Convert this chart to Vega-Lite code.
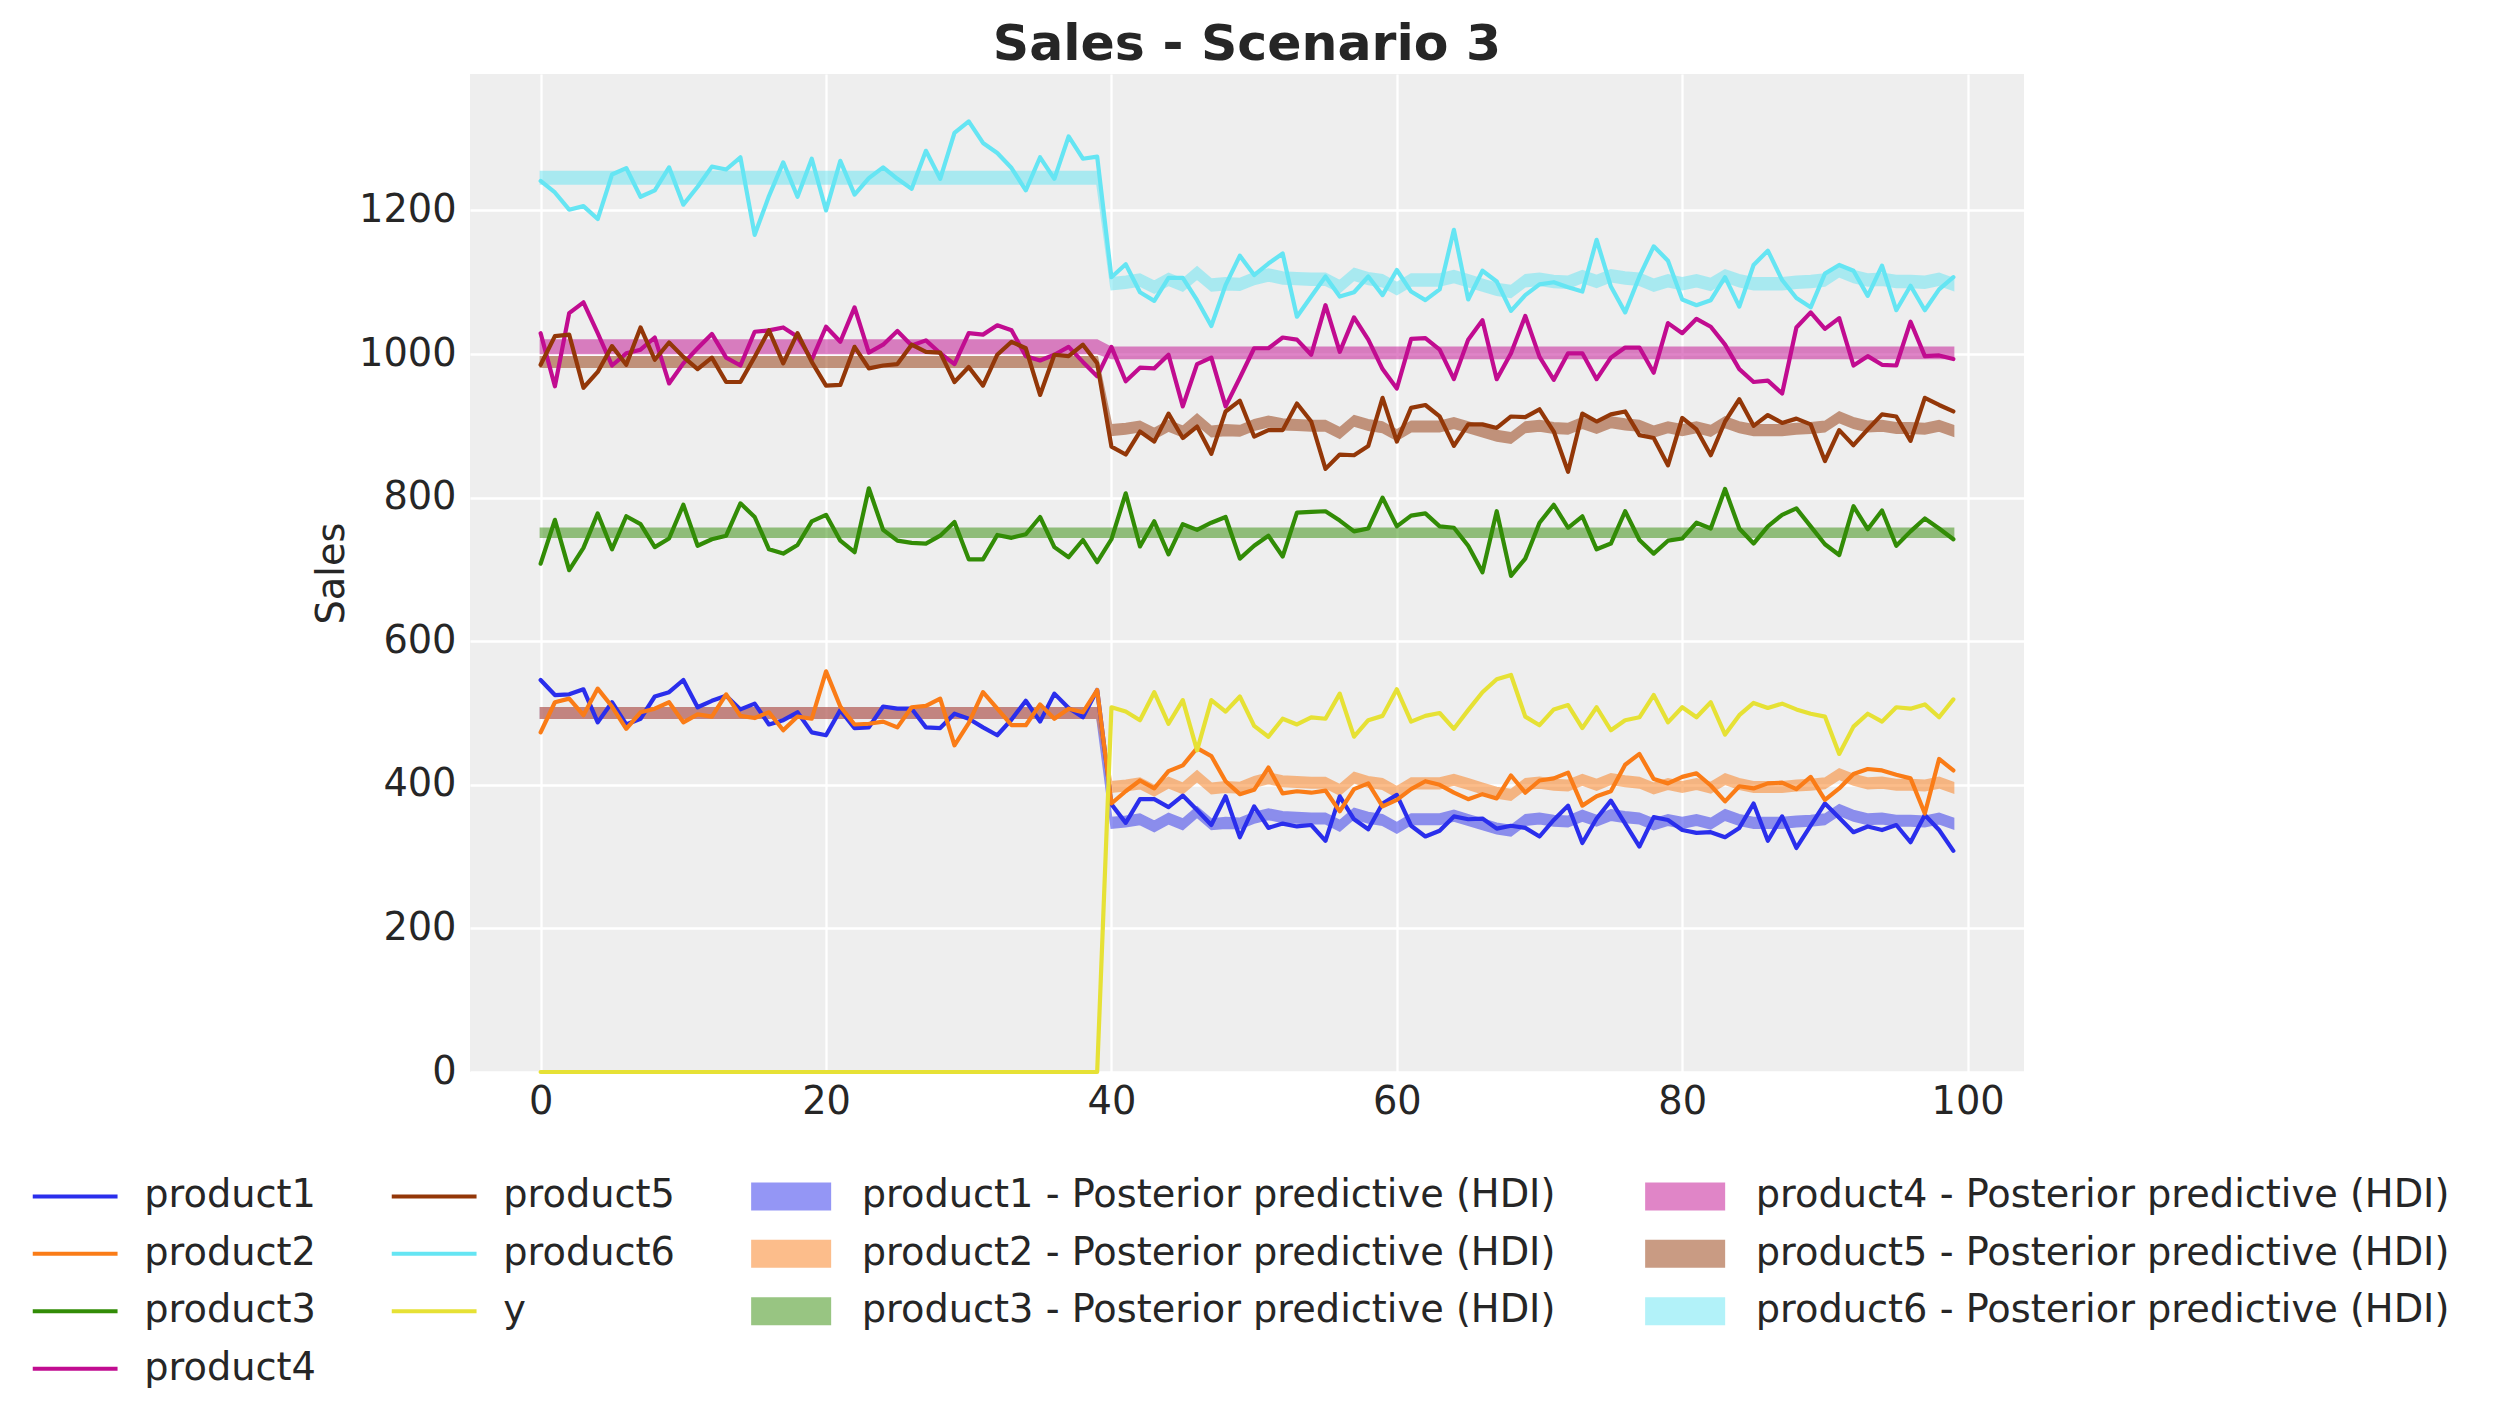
{
  "$schema": "https://vega.github.io/schema/vega-lite/v6.json",
  "width": 1554,
  "height": 998,
  "autosize": {"type": "none"},
  "padding": {"left": 470, "top": 74, "right": 471, "bottom": 352},
  "background": "white",
  "title": {
    "text": "Sales - Scenario 3",
    "fontSize": 50.5,
    "fontWeight": "bold",
    "font": "DejaVu Sans",
    "color": "#262626",
    "anchor": "middle",
    "frame": "group",
    "baseline": "alphabetic",
    "offset": 15,
    "dy": 51
  },
  "datasets": {
    "sales": [
      {"t":0,"product1":546,"product2":473,"product3":708,"product4":1029,"product5":985,"product6":1241,"y":0},
      {"t":1,"product1":525,"product2":515,"product3":769,"product4":955,"product5":1025,"product6":1225,"y":0},
      {"t":2,"product1":526,"product2":520,"product3":699,"product4":1057,"product5":1027,"product6":1201,"y":0},
      {"t":3,"product1":533,"product2":497,"product3":730,"product4":1072,"product5":953,"product6":1206,"y":0},
      {"t":4,"product1":487,"product2":534,"product3":778,"product4":1029,"product5":975,"product6":1188,"y":0},
      {"t":5,"product1":515,"product2":509,"product3":728,"product4":984,"product5":1011,"product6":1250,"y":0},
      {"t":6,"product1":484,"product2":478,"product3":774,"product4":1001,"product5":985,"product6":1259,"y":0},
      {"t":7,"product1":492,"product2":501,"product3":763,"product4":1006,"product5":1037,"product6":1219,"y":0},
      {"t":8,"product1":523,"product2":506,"product3":731,"product4":1023,"product5":992,"product6":1228,"y":0},
      {"t":9,"product1":529,"product2":515,"product3":743,"product4":959,"product5":1016,"product6":1260,"y":0},
      {"t":10,"product1":546,"product2":487,"product3":790,"product4":987,"product5":996,"product6":1208,"y":0},
      {"t":11,"product1":508,"product2":498,"product3":733,"product4":1008,"product5":979,"product6":1233,"y":0},
      {"t":12,"product1":517,"product2":495,"product3":742,"product4":1028,"product5":995,"product6":1261,"y":0},
      {"t":13,"product1":524,"product2":526,"product3":747,"product4":995,"product5":961,"product6":1257,"y":0},
      {"t":14,"product1":505,"product2":496,"product3":792,"product4":984,"product5":961,"product6":1274,"y":0},
      {"t":15,"product1":513,"product2":493,"product3":773,"product4":1031,"product5":996,"product6":1166,"y":0},
      {"t":16,"product1":484,"product2":501,"product3":728,"product4":1033,"product5":1033,"product6":1220,"y":0},
      {"t":17,"product1":490,"product2":476,"product3":722,"product4":1037,"product5":987,"product6":1267,"y":0},
      {"t":18,"product1":501,"product2":495,"product3":734,"product4":1024,"product5":1029,"product6":1219,"y":0},
      {"t":19,"product1":473,"product2":492,"product3":767,"product4":992,"product5":989,"product6":1272,"y":0},
      {"t":20,"product1":469,"product2":558,"product3":776,"product4":1038,"product5":956,"product6":1200,"y":0},
      {"t":21,"product1":504,"product2":509,"product3":740,"product4":1017,"product5":957,"product6":1269,"y":0},
      {"t":22,"product1":479,"product2":484,"product3":724,"product4":1065,"product5":1010,"product6":1222,"y":0},
      {"t":23,"product1":480,"product2":485,"product3":813,"product4":1002,"product5":980,"product6":1245,"y":0},
      {"t":24,"product1":509,"product2":488,"product3":755,"product4":1013,"product5":984,"product6":1260,"y":0},
      {"t":25,"product1":506,"product2":480,"product3":740,"product4":1032,"product5":986,"product6":1244,"y":0},
      {"t":26,"product1":506,"product2":508,"product3":737,"product4":1012,"product5":1013,"product6":1230,"y":0},
      {"t":27,"product1":480,"product2":510,"product3":736,"product4":1019,"product5":1003,"product6":1283,"y":0},
      {"t":28,"product1":479,"product2":520,"product3":747,"product4":1001,"product5":1002,"product6":1244,"y":0},
      {"t":29,"product1":499,"product2":455,"product3":766,"product4":986,"product5":961,"product6":1308,"y":0},
      {"t":30,"product1":492,"product2":486,"product3":714,"product4":1029,"product5":982,"product6":1324,"y":0},
      {"t":31,"product1":480,"product2":529,"product3":714,"product4":1027,"product5":956,"product6":1294,"y":0},
      {"t":32,"product1":469,"product2":506,"product3":748,"product4":1040,"product5":999,"product6":1280,"y":0},
      {"t":33,"product1":491,"product2":483,"product3":744,"product4":1033,"product5":1017,"product6":1259,"y":0},
      {"t":34,"product1":517,"product2":483,"product3":749,"product4":997,"product5":1008,"product6":1228,"y":0},
      {"t":35,"product1":488,"product2":512,"product3":773,"product4":991,"product5":943,"product6":1274,"y":0},
      {"t":36,"product1":527,"product2":492,"product3":731,"product4":999,"product5":999,"product6":1244,"y":0},
      {"t":37,"product1":507,"product2":506,"product3":717,"product4":1010,"product5":997,"product6":1303,"y":0},
      {"t":38,"product1":494,"product2":501,"product3":741,"product4":989,"product5":1013,"product6":1272,"y":0},
      {"t":39,"product1":532,"product2":532,"product3":710,"product4":969,"product5":987,"product6":1275,"y":0},
      {"t":40,"product1":373,"product2":374,"product3":742,"product4":1010,"product5":871,"product6":1107,"y":508},
      {"t":41,"product1":347,"product2":391,"product3":806,"product4":962,"product5":860,"product6":1125,"y":502},
      {"t":42,"product1":380,"product2":406,"product3":732,"product4":981,"product5":892,"product6":1086,"y":490},
      {"t":43,"product1":380,"product2":395,"product3":767,"product4":980,"product5":878,"product6":1074,"y":529},
      {"t":44,"product1":369,"product2":419,"product3":721,"product4":999,"product5":917,"product6":1106,"y":485},
      {"t":45,"product1":385,"product2":427,"product3":763,"product4":927,"product5":883,"product6":1106,"y":518},
      {"t":46,"product1":365,"product2":451,"product3":755,"product4":986,"product5":899,"product6":1075,"y":448},
      {"t":47,"product1":344,"product2":440,"product3":765,"product4":995,"product5":861,"product6":1039,"y":518},
      {"t":48,"product1":384,"product2":405,"product3":773,"product4":927,"product5":920,"product6":1096,"y":502},
      {"t":49,"product1":327,"product2":387,"product3":715,"product4":967,"product5":935,"product6":1137,"y":523},
      {"t":50,"product1":370,"product2":393,"product3":733,"product4":1008,"product5":885,"product6":1110,"y":482},
      {"t":51,"product1":340,"product2":424,"product3":747,"product4":1008,"product5":894,"product6":1126,"y":467},
      {"t":52,"product1":346,"product2":388,"product3":718,"product4":1023,"product5":894,"product6":1140,"y":492},
      {"t":53,"product1":342,"product2":391,"product3":779,"product4":1020,"product5":931,"product6":1052,"y":484},
      {"t":54,"product1":344,"product2":389,"product3":780,"product4":999,"product5":906,"product6":1080,"y":494},
      {"t":55,"product1":322,"product2":392,"product3":781,"product4":1068,"product5":840,"product6":1108,"y":492},
      {"t":56,"product1":384,"product2":363,"product3":768,"product4":1003,"product5":860,"product6":1080,"y":527},
      {"t":57,"product1":352,"product2":394,"product3":753,"product4":1051,"product5":859,"product6":1086,"y":467},
      {"t":58,"product1":338,"product2":402,"product3":757,"product4":1020,"product5":872,"product6":1108,"y":490},
      {"t":59,"product1":374,"product2":370,"product3":800,"product4":979,"product5":939,"product6":1082,"y":496},
      {"t":60,"product1":386,"product2":379,"product3":760,"product4":952,"product5":878,"product6":1117,"y":533},
      {"t":61,"product1":343,"product2":394,"product3":775,"product4":1021,"product5":925,"product6":1087,"y":488},
      {"t":62,"product1":328,"product2":405,"product3":778,"product4":1022,"product5":929,"product6":1075,"y":496},
      {"t":63,"product1":336,"product2":400,"product3":760,"product4":1006,"product5":913,"product6":1090,"y":500},
      {"t":64,"product1":356,"product2":389,"product3":758,"product4":965,"product5":872,"product6":1173,"y":478},
      {"t":65,"product1":352,"product2":380,"product3":733,"product4":1020,"product5":902,"product6":1076,"y":504},
      {"t":66,"product1":353,"product2":387,"product3":696,"product4":1047,"product5":902,"product6":1116,"y":529},
      {"t":67,"product1":339,"product2":381,"product3":781,"product4":965,"product5":897,"product6":1101,"y":547},
      {"t":68,"product1":343,"product2":413,"product3":691,"product4":1001,"product5":913,"product6":1060,"y":553},
      {"t":69,"product1":340,"product2":389,"product3":715,"product4":1053,"product5":912,"product6":1082,"y":495},
      {"t":70,"product1":328,"product2":406,"product3":765,"product4":996,"product5":923,"product6":1097,"y":483},
      {"t":71,"product1":351,"product2":409,"product3":790,"product4":964,"product5":892,"product6":1100,"y":505},
      {"t":72,"product1":371,"product2":417,"product3":758,"product4":1001,"product5":836,"product6":1093,"y":511},
      {"t":73,"product1":319,"product2":371,"product3":774,"product4":1001,"product5":917,"product6":1087,"y":479},
      {"t":74,"product1":353,"product2":384,"product3":728,"product4":965,"product5":906,"product6":1159,"y":508},
      {"t":75,"product1":378,"product2":391,"product3":736,"product4":995,"product5":916,"product6":1094,"y":476},
      {"t":76,"product1":346,"product2":428,"product3":781,"product4":1009,"product5":920,"product6":1058,"y":490},
      {"t":77,"product1":314,"product2":443,"product3":741,"product4":1009,"product5":887,"product6":1108,"y":494},
      {"t":78,"product1":355,"product2":408,"product3":722,"product4":974,"product5":883,"product6":1150,"y":525},
      {"t":79,"product1":351,"product2":402,"product3":740,"product4":1043,"product5":845,"product6":1130,"y":487},
      {"t":80,"product1":337,"product2":411,"product3":743,"product4":1029,"product5":911,"product6":1076,"y":508},
      {"t":81,"product1":333,"product2":416,"product3":765,"product4":1049,"product5":895,"product6":1068,"y":494},
      {"t":82,"product1":334,"product2":399,"product3":757,"product4":1038,"product5":859,"product6":1075,"y":515},
      {"t":83,"product1":327,"product2":377,"product3":812,"product4":1013,"product5":906,"product6":1107,"y":470},
      {"t":84,"product1":340,"product2":398,"product3":757,"product4":979,"product5":937,"product6":1066,"y":497},
      {"t":85,"product1":374,"product2":395,"product3":736,"product4":961,"product5":900,"product6":1124,"y":514},
      {"t":86,"product1":322,"product2":402,"product3":760,"product4":963,"product5":915,"product6":1144,"y":507},
      {"t":87,"product1":356,"product2":403,"product3":776,"product4":945,"product5":904,"product6":1103,"y":513},
      {"t":88,"product1":312,"product2":394,"product3":785,"product4":1037,"product5":910,"product6":1078,"y":505},
      {"t":89,"product1":343,"product2":411,"product3":760,"product4":1058,"product5":902,"product6":1065,"y":499},
      {"t":90,"product1":374,"product2":379,"product3":735,"product4":1035,"product5":851,"product6":1112,"y":495},
      {"t":91,"product1":354,"product2":395,"product3":720,"product4":1050,"product5":894,"product6":1124,"y":443},
      {"t":92,"product1":334,"product2":415,"product3":788,"product4":984,"product5":873,"product6":1116,"y":481},
      {"t":93,"product1":342,"product2":422,"product3":756,"product4":997,"product5":895,"product6":1081,"y":499},
      {"t":94,"product1":337,"product2":420,"product3":782,"product4":985,"product5":916,"product6":1123,"y":488},
      {"t":95,"product1":344,"product2":414,"product3":733,"product4":984,"product5":913,"product6":1061,"y":508},
      {"t":96,"product1":320,"product2":409,"product3":753,"product4":1045,"product5":879,"product6":1095,"y":506},
      {"t":97,"product1":358,"product2":360,"product3":771,"product4":997,"product5":939,"product6":1061,"y":512},
      {"t":98,"product1":337,"product2":436,"product3":757,"product4":998,"product5":929,"product6":1090,"y":494},
      {"t":99,"product1":308,"product2":420,"product3":742,"product4":993,"product5":920,"product6":1107,"y":519}
    ],
    "hdi": [
      {"t":0,"l1":493,"h1":507,"l2":493,"h2":507,"l3":745,"h3":757,"l4":1001,"h4":1019,"l5":982,"h5":996,"l6":1237,"h6":1254},
      {"t":1,"l1":493,"h1":507,"l2":493,"h2":507,"l3":745,"h3":757,"l4":1001,"h4":1019,"l5":982,"h5":996,"l6":1237,"h6":1254},
      {"t":2,"l1":493,"h1":507,"l2":493,"h2":507,"l3":745,"h3":757,"l4":1001,"h4":1019,"l5":982,"h5":996,"l6":1237,"h6":1254},
      {"t":3,"l1":493,"h1":507,"l2":493,"h2":507,"l3":745,"h3":757,"l4":1001,"h4":1019,"l5":982,"h5":996,"l6":1237,"h6":1254},
      {"t":4,"l1":493,"h1":507,"l2":493,"h2":507,"l3":745,"h3":757,"l4":1001,"h4":1019,"l5":982,"h5":996,"l6":1237,"h6":1254},
      {"t":5,"l1":493,"h1":507,"l2":493,"h2":507,"l3":745,"h3":757,"l4":1001,"h4":1019,"l5":982,"h5":996,"l6":1237,"h6":1254},
      {"t":6,"l1":493,"h1":507,"l2":493,"h2":507,"l3":745,"h3":757,"l4":1001,"h4":1019,"l5":982,"h5":996,"l6":1237,"h6":1254},
      {"t":7,"l1":493,"h1":507,"l2":493,"h2":507,"l3":745,"h3":757,"l4":1001,"h4":1019,"l5":982,"h5":996,"l6":1237,"h6":1254},
      {"t":8,"l1":493,"h1":507,"l2":493,"h2":507,"l3":745,"h3":757,"l4":1001,"h4":1019,"l5":982,"h5":996,"l6":1237,"h6":1254},
      {"t":9,"l1":493,"h1":507,"l2":493,"h2":507,"l3":745,"h3":757,"l4":1001,"h4":1019,"l5":982,"h5":996,"l6":1237,"h6":1254},
      {"t":10,"l1":493,"h1":507,"l2":493,"h2":507,"l3":745,"h3":757,"l4":1001,"h4":1019,"l5":982,"h5":996,"l6":1237,"h6":1254},
      {"t":11,"l1":493,"h1":507,"l2":493,"h2":507,"l3":745,"h3":757,"l4":1001,"h4":1019,"l5":982,"h5":996,"l6":1237,"h6":1254},
      {"t":12,"l1":493,"h1":507,"l2":493,"h2":507,"l3":745,"h3":757,"l4":1001,"h4":1019,"l5":982,"h5":996,"l6":1237,"h6":1254},
      {"t":13,"l1":493,"h1":507,"l2":493,"h2":507,"l3":745,"h3":757,"l4":1001,"h4":1019,"l5":982,"h5":996,"l6":1237,"h6":1254},
      {"t":14,"l1":493,"h1":507,"l2":493,"h2":507,"l3":745,"h3":757,"l4":1001,"h4":1019,"l5":982,"h5":996,"l6":1237,"h6":1254},
      {"t":15,"l1":493,"h1":507,"l2":493,"h2":507,"l3":745,"h3":757,"l4":1001,"h4":1019,"l5":982,"h5":996,"l6":1237,"h6":1254},
      {"t":16,"l1":493,"h1":507,"l2":493,"h2":507,"l3":745,"h3":757,"l4":1001,"h4":1019,"l5":982,"h5":996,"l6":1237,"h6":1254},
      {"t":17,"l1":493,"h1":507,"l2":493,"h2":507,"l3":745,"h3":757,"l4":1001,"h4":1019,"l5":982,"h5":996,"l6":1237,"h6":1254},
      {"t":18,"l1":493,"h1":507,"l2":493,"h2":507,"l3":745,"h3":757,"l4":1001,"h4":1019,"l5":982,"h5":996,"l6":1237,"h6":1254},
      {"t":19,"l1":493,"h1":507,"l2":493,"h2":507,"l3":745,"h3":757,"l4":1001,"h4":1019,"l5":982,"h5":996,"l6":1237,"h6":1254},
      {"t":20,"l1":493,"h1":507,"l2":493,"h2":507,"l3":745,"h3":757,"l4":1001,"h4":1019,"l5":982,"h5":996,"l6":1237,"h6":1254},
      {"t":21,"l1":493,"h1":507,"l2":493,"h2":507,"l3":745,"h3":757,"l4":1001,"h4":1019,"l5":982,"h5":996,"l6":1237,"h6":1254},
      {"t":22,"l1":493,"h1":507,"l2":493,"h2":507,"l3":745,"h3":757,"l4":1001,"h4":1019,"l5":982,"h5":996,"l6":1237,"h6":1254},
      {"t":23,"l1":493,"h1":507,"l2":493,"h2":507,"l3":745,"h3":757,"l4":1001,"h4":1019,"l5":982,"h5":996,"l6":1237,"h6":1254},
      {"t":24,"l1":493,"h1":507,"l2":493,"h2":507,"l3":745,"h3":757,"l4":1001,"h4":1019,"l5":982,"h5":996,"l6":1237,"h6":1254},
      {"t":25,"l1":493,"h1":507,"l2":493,"h2":507,"l3":745,"h3":757,"l4":1001,"h4":1019,"l5":982,"h5":996,"l6":1237,"h6":1254},
      {"t":26,"l1":493,"h1":507,"l2":493,"h2":507,"l3":745,"h3":757,"l4":1001,"h4":1019,"l5":982,"h5":996,"l6":1237,"h6":1254},
      {"t":27,"l1":493,"h1":507,"l2":493,"h2":507,"l3":745,"h3":757,"l4":1001,"h4":1019,"l5":982,"h5":996,"l6":1237,"h6":1254},
      {"t":28,"l1":493,"h1":507,"l2":493,"h2":507,"l3":745,"h3":757,"l4":1001,"h4":1019,"l5":982,"h5":996,"l6":1237,"h6":1254},
      {"t":29,"l1":493,"h1":507,"l2":493,"h2":507,"l3":745,"h3":757,"l4":1001,"h4":1019,"l5":982,"h5":996,"l6":1237,"h6":1254},
      {"t":30,"l1":493,"h1":507,"l2":493,"h2":507,"l3":745,"h3":757,"l4":1001,"h4":1019,"l5":982,"h5":996,"l6":1237,"h6":1254},
      {"t":31,"l1":493,"h1":507,"l2":493,"h2":507,"l3":745,"h3":757,"l4":1001,"h4":1019,"l5":982,"h5":996,"l6":1237,"h6":1254},
      {"t":32,"l1":493,"h1":507,"l2":493,"h2":507,"l3":745,"h3":757,"l4":1001,"h4":1019,"l5":982,"h5":996,"l6":1237,"h6":1254},
      {"t":33,"l1":493,"h1":507,"l2":493,"h2":507,"l3":745,"h3":757,"l4":1001,"h4":1019,"l5":982,"h5":996,"l6":1237,"h6":1254},
      {"t":34,"l1":493,"h1":507,"l2":493,"h2":507,"l3":745,"h3":757,"l4":1001,"h4":1019,"l5":982,"h5":996,"l6":1237,"h6":1254},
      {"t":35,"l1":493,"h1":507,"l2":493,"h2":507,"l3":745,"h3":757,"l4":1001,"h4":1019,"l5":982,"h5":996,"l6":1237,"h6":1254},
      {"t":36,"l1":493,"h1":507,"l2":493,"h2":507,"l3":745,"h3":757,"l4":1001,"h4":1019,"l5":982,"h5":996,"l6":1237,"h6":1254},
      {"t":37,"l1":493,"h1":507,"l2":493,"h2":507,"l3":745,"h3":757,"l4":1001,"h4":1019,"l5":982,"h5":996,"l6":1237,"h6":1254},
      {"t":38,"l1":493,"h1":507,"l2":493,"h2":507,"l3":745,"h3":757,"l4":1001,"h4":1019,"l5":982,"h5":996,"l6":1237,"h6":1254},
      {"t":39,"l1":493,"h1":507,"l2":493,"h2":507,"l3":745,"h3":757,"l4":1001,"h4":1019,"l5":982,"h5":996,"l6":1237,"h6":1254},
      {"t":40,"l1":340,"h1":354,"l2":390,"h2":404,"l3":745,"h3":757,"l4":994,"h4":1009,"l5":887,"h5":901,"l6":1090,"h6":1106},
      {"t":41,"l1":342,"h1":356,"l2":392,"h2":406,"l3":745,"h3":757,"l4":994,"h4":1009,"l5":889,"h5":903,"l6":1092,"h6":1108},
      {"t":42,"l1":345,"h1":359,"l2":395,"h2":409,"l3":745,"h3":757,"l4":994,"h4":1009,"l5":892,"h5":906,"l6":1095,"h6":1111},
      {"t":43,"l1":335,"h1":349,"l2":385,"h2":399,"l3":745,"h3":757,"l4":994,"h4":1009,"l5":882,"h5":896,"l6":1085,"h6":1101},
      {"t":44,"l1":346,"h1":360,"l2":396,"h2":410,"l3":745,"h3":757,"l4":994,"h4":1009,"l5":893,"h5":907,"l6":1096,"h6":1112},
      {"t":45,"l1":338,"h1":352,"l2":388,"h2":402,"l3":745,"h3":757,"l4":994,"h4":1009,"l5":885,"h5":899,"l6":1088,"h6":1104},
      {"t":46,"l1":355,"h1":369,"l2":405,"h2":419,"l3":745,"h3":757,"l4":994,"h4":1009,"l5":902,"h5":916,"l6":1105,"h6":1121},
      {"t":47,"l1":338,"h1":352,"l2":388,"h2":402,"l3":745,"h3":757,"l4":994,"h4":1009,"l5":885,"h5":899,"l6":1088,"h6":1104},
      {"t":48,"l1":340,"h1":354,"l2":390,"h2":404,"l3":745,"h3":757,"l4":994,"h4":1009,"l5":887,"h5":901,"l6":1090,"h6":1106},
      {"t":49,"l1":339,"h1":353,"l2":389,"h2":403,"l3":745,"h3":757,"l4":994,"h4":1009,"l5":886,"h5":900,"l6":1089,"h6":1105},
      {"t":50,"l1":347,"h1":361,"l2":397,"h2":411,"l3":745,"h3":757,"l4":994,"h4":1009,"l5":894,"h5":908,"l6":1097,"h6":1113},
      {"t":51,"l1":352,"h1":366,"l2":402,"h2":416,"l3":745,"h3":757,"l4":994,"h4":1009,"l5":899,"h5":913,"l6":1102,"h6":1118},
      {"t":52,"l1":348,"h1":362,"l2":398,"h2":412,"l3":745,"h3":757,"l4":994,"h4":1009,"l5":895,"h5":909,"l6":1098,"h6":1114},
      {"t":53,"l1":347,"h1":361,"l2":397,"h2":411,"l3":745,"h3":757,"l4":994,"h4":1009,"l5":894,"h5":908,"l6":1097,"h6":1113},
      {"t":54,"l1":346,"h1":360,"l2":396,"h2":410,"l3":745,"h3":757,"l4":994,"h4":1009,"l5":893,"h5":907,"l6":1096,"h6":1112},
      {"t":55,"l1":346,"h1":360,"l2":396,"h2":410,"l3":745,"h3":757,"l4":994,"h4":1009,"l5":893,"h5":907,"l6":1096,"h6":1112},
      {"t":56,"l1":336,"h1":350,"l2":386,"h2":400,"l3":745,"h3":757,"l4":994,"h4":1009,"l5":883,"h5":897,"l6":1086,"h6":1102},
      {"t":57,"l1":353,"h1":367,"l2":403,"h2":417,"l3":745,"h3":757,"l4":994,"h4":1009,"l5":900,"h5":914,"l6":1103,"h6":1119},
      {"t":58,"l1":347,"h1":361,"l2":397,"h2":411,"l3":745,"h3":757,"l4":994,"h4":1009,"l5":894,"h5":908,"l6":1097,"h6":1113},
      {"t":59,"l1":344,"h1":358,"l2":394,"h2":408,"l3":745,"h3":757,"l4":994,"h4":1009,"l5":891,"h5":905,"l6":1094,"h6":1110},
      {"t":60,"l1":333,"h1":347,"l2":383,"h2":397,"l3":745,"h3":757,"l4":994,"h4":1009,"l5":880,"h5":894,"l6":1083,"h6":1099},
      {"t":61,"l1":345,"h1":359,"l2":395,"h2":409,"l3":745,"h3":757,"l4":994,"h4":1009,"l5":892,"h5":906,"l6":1095,"h6":1111},
      {"t":62,"l1":345,"h1":359,"l2":395,"h2":409,"l3":745,"h3":757,"l4":994,"h4":1009,"l5":892,"h5":906,"l6":1095,"h6":1111},
      {"t":63,"l1":345,"h1":359,"l2":395,"h2":409,"l3":745,"h3":757,"l4":994,"h4":1009,"l5":892,"h5":906,"l6":1095,"h6":1111},
      {"t":64,"l1":350,"h1":364,"l2":400,"h2":414,"l3":745,"h3":757,"l4":994,"h4":1009,"l5":897,"h5":911,"l6":1100,"h6":1116},
      {"t":65,"l1":344,"h1":358,"l2":394,"h2":408,"l3":745,"h3":757,"l4":994,"h4":1009,"l5":891,"h5":905,"l6":1094,"h6":1110},
      {"t":66,"l1":338,"h1":352,"l2":388,"h2":402,"l3":745,"h3":757,"l4":994,"h4":1009,"l5":885,"h5":899,"l6":1088,"h6":1104},
      {"t":67,"l1":332,"h1":346,"l2":382,"h2":396,"l3":745,"h3":757,"l4":994,"h4":1009,"l5":879,"h5":893,"l6":1082,"h6":1098},
      {"t":68,"l1":329,"h1":343,"l2":379,"h2":393,"l3":745,"h3":757,"l4":994,"h4":1009,"l5":876,"h5":890,"l6":1079,"h6":1095},
      {"t":69,"l1":344,"h1":358,"l2":394,"h2":408,"l3":745,"h3":757,"l4":994,"h4":1009,"l5":891,"h5":905,"l6":1094,"h6":1110},
      {"t":70,"l1":346,"h1":360,"l2":396,"h2":410,"l3":745,"h3":757,"l4":994,"h4":1009,"l5":893,"h5":907,"l6":1096,"h6":1112},
      {"t":71,"l1":343,"h1":357,"l2":393,"h2":407,"l3":745,"h3":757,"l4":994,"h4":1009,"l5":890,"h5":904,"l6":1093,"h6":1109},
      {"t":72,"l1":342,"h1":356,"l2":392,"h2":406,"l3":745,"h3":757,"l4":994,"h4":1009,"l5":889,"h5":903,"l6":1092,"h6":1108},
      {"t":73,"l1":350,"h1":364,"l2":400,"h2":414,"l3":745,"h3":757,"l4":994,"h4":1009,"l5":897,"h5":911,"l6":1100,"h6":1116},
      {"t":74,"l1":343,"h1":357,"l2":393,"h2":407,"l3":745,"h3":757,"l4":994,"h4":1009,"l5":890,"h5":904,"l6":1093,"h6":1109},
      {"t":75,"l1":351,"h1":365,"l2":401,"h2":415,"l3":745,"h3":757,"l4":994,"h4":1009,"l5":898,"h5":912,"l6":1101,"h6":1117},
      {"t":76,"l1":348,"h1":362,"l2":398,"h2":412,"l3":745,"h3":757,"l4":994,"h4":1009,"l5":895,"h5":909,"l6":1098,"h6":1114},
      {"t":77,"l1":346,"h1":360,"l2":396,"h2":410,"l3":745,"h3":757,"l4":994,"h4":1009,"l5":893,"h5":907,"l6":1096,"h6":1112},
      {"t":78,"l1":338,"h1":352,"l2":388,"h2":402,"l3":745,"h3":757,"l4":994,"h4":1009,"l5":885,"h5":899,"l6":1088,"h6":1104},
      {"t":79,"l1":344,"h1":358,"l2":394,"h2":408,"l3":745,"h3":757,"l4":994,"h4":1009,"l5":891,"h5":905,"l6":1094,"h6":1110},
      {"t":80,"l1":340,"h1":354,"l2":390,"h2":404,"l3":745,"h3":757,"l4":994,"h4":1009,"l5":887,"h5":901,"l6":1090,"h6":1106},
      {"t":81,"l1":344,"h1":358,"l2":394,"h2":408,"l3":745,"h3":757,"l4":994,"h4":1009,"l5":891,"h5":905,"l6":1094,"h6":1110},
      {"t":82,"l1":339,"h1":353,"l2":389,"h2":403,"l3":745,"h3":757,"l4":994,"h4":1009,"l5":886,"h5":900,"l6":1089,"h6":1105},
      {"t":83,"l1":351,"h1":365,"l2":401,"h2":415,"l3":745,"h3":757,"l4":994,"h4":1009,"l5":898,"h5":912,"l6":1101,"h6":1117},
      {"t":84,"l1":344,"h1":358,"l2":394,"h2":408,"l3":745,"h3":757,"l4":994,"h4":1009,"l5":891,"h5":905,"l6":1094,"h6":1110},
      {"t":85,"l1":340,"h1":354,"l2":390,"h2":404,"l3":745,"h3":757,"l4":994,"h4":1009,"l5":887,"h5":901,"l6":1090,"h6":1106},
      {"t":86,"l1":340,"h1":354,"l2":390,"h2":404,"l3":745,"h3":757,"l4":994,"h4":1009,"l5":887,"h5":901,"l6":1090,"h6":1106},
      {"t":87,"l1":340,"h1":354,"l2":390,"h2":404,"l3":745,"h3":757,"l4":994,"h4":1009,"l5":887,"h5":901,"l6":1090,"h6":1106},
      {"t":88,"l1":342,"h1":356,"l2":392,"h2":406,"l3":745,"h3":757,"l4":994,"h4":1009,"l5":889,"h5":903,"l6":1092,"h6":1108},
      {"t":89,"l1":343,"h1":357,"l2":393,"h2":407,"l3":745,"h3":757,"l4":994,"h4":1009,"l5":890,"h5":904,"l6":1093,"h6":1109},
      {"t":90,"l1":345,"h1":359,"l2":395,"h2":409,"l3":745,"h3":757,"l4":994,"h4":1009,"l5":892,"h5":906,"l6":1095,"h6":1111},
      {"t":91,"l1":358,"h1":372,"l2":408,"h2":422,"l3":745,"h3":757,"l4":994,"h4":1009,"l5":905,"h5":919,"l6":1108,"h6":1124},
      {"t":92,"l1":350,"h1":364,"l2":400,"h2":414,"l3":745,"h3":757,"l4":994,"h4":1009,"l5":897,"h5":911,"l6":1100,"h6":1116},
      {"t":93,"l1":345,"h1":359,"l2":395,"h2":409,"l3":745,"h3":757,"l4":994,"h4":1009,"l5":892,"h5":906,"l6":1095,"h6":1111},
      {"t":94,"l1":346,"h1":360,"l2":396,"h2":410,"l3":745,"h3":757,"l4":994,"h4":1009,"l5":893,"h5":907,"l6":1096,"h6":1112},
      {"t":95,"l1":343,"h1":357,"l2":393,"h2":407,"l3":745,"h3":757,"l4":994,"h4":1009,"l5":890,"h5":904,"l6":1093,"h6":1109},
      {"t":96,"l1":343,"h1":357,"l2":393,"h2":407,"l3":745,"h3":757,"l4":994,"h4":1009,"l5":890,"h5":904,"l6":1093,"h6":1109},
      {"t":97,"l1":342,"h1":356,"l2":392,"h2":406,"l3":745,"h3":757,"l4":994,"h4":1009,"l5":889,"h5":903,"l6":1092,"h6":1108},
      {"t":98,"l1":346,"h1":360,"l2":396,"h2":410,"l3":745,"h3":757,"l4":994,"h4":1009,"l5":893,"h5":907,"l6":1096,"h6":1112},
      {"t":99,"l1":339,"h1":353,"l2":389,"h2":403,"l3":745,"h3":757,"l4":994,"h4":1009,"l5":886,"h5":900,"l6":1089,"h6":1105}
    ]
  },
  "encoding": {
    "x": {
      "field": "t",
      "type": "quantitative",
      "title": null,
      "scale": {"domain": [-4.95, 103.95], "nice": false, "zero": false},
      "axis": {"values": [0, 20, 40, 60, 80, 100]}
    }
  },
  "layer": [
    {
      "data": {"name": "hdi"},
      "mark": {"type": "area", "opacity": 0.5, "stroke": "#2a2eec", "strokeWidth": 2},
      "encoding": {
        "y": {"field": "l1", "type": "quantitative", "title": "Sales"},
        "y2": {"field": "h1"},
        "fill": {
          "datum": "product1",
          "type": "nominal",
          "scale": {
            "domain": ["product1", "product2", "product3", "product4", "product5", "product6"],
            "range": ["#2a2eec", "#fa7c17", "#328c06", "#c10c90", "#933708", "#65e5f3"]
          },
          "legend": {
            "orient": "none",
            "legendX": 302,
            "legendY": 1103,
            "columns": 2,
            "title": null,
            "padding": 0,
            "gridAlign": "each",
            "symbolType": "M-2.5,-0.875L2.5,-0.875L2.5,0.875L-2.5,0.875Z",
            "symbolSize": 1024,
            "symbolStrokeWidth": 0,
            "labelOffset": 51.5,
            "rowPadding": 18.5,
            "columnPadding": 89,
            "labelLimit": 2000,
            "labelFontSize": 38.3,
            "labelColor": "#262626",
            "labelExpr": "datum.label + ' - Posterior predictive (HDI)'"
          }
        }
      }
    },
    {
      "data": {"name": "hdi"},
      "mark": {"type": "area", "opacity": 0.5, "stroke": "#fa7c17", "strokeWidth": 2},
      "encoding": {
        "y": {"field": "l2", "type": "quantitative", "title": "Sales"},
        "y2": {"field": "h2"},
        "fill": {"datum": "product2", "type": "nominal"}
      }
    },
    {
      "data": {"name": "hdi"},
      "mark": {"type": "area", "opacity": 0.5, "stroke": "#328c06", "strokeWidth": 2},
      "encoding": {
        "y": {"field": "l3", "type": "quantitative", "title": "Sales"},
        "y2": {"field": "h3"},
        "fill": {"datum": "product3", "type": "nominal"}
      }
    },
    {
      "data": {"name": "hdi"},
      "mark": {"type": "area", "opacity": 0.5, "stroke": "#c10c90", "strokeWidth": 2},
      "encoding": {
        "y": {"field": "l4", "type": "quantitative", "title": "Sales"},
        "y2": {"field": "h4"},
        "fill": {"datum": "product4", "type": "nominal"}
      }
    },
    {
      "data": {"name": "hdi"},
      "mark": {"type": "area", "opacity": 0.5, "stroke": "#933708", "strokeWidth": 2},
      "encoding": {
        "y": {"field": "l5", "type": "quantitative", "title": "Sales"},
        "y2": {"field": "h5"},
        "fill": {"datum": "product5", "type": "nominal"}
      }
    },
    {
      "data": {"name": "hdi"},
      "mark": {"type": "area", "opacity": 0.5, "stroke": "#65e5f3", "strokeWidth": 2},
      "encoding": {
        "y": {"field": "l6", "type": "quantitative", "title": "Sales"},
        "y2": {"field": "h6"},
        "fill": {"datum": "product6", "type": "nominal"}
      }
    },
    {
      "data": {"name": "sales"},
      "transform": [
        {"fold": ["product1", "product2", "product3", "product4", "product5", "product6", "y"], "as": ["series", "value"]}
      ],
      "mark": {"type": "line", "strokeWidth": 4.2, "strokeJoin": "round", "strokeCap": "round"},
      "encoding": {
        "y": {
          "field": "value",
          "type": "quantitative",
          "title": "Sales",
          "scale": {"domain": [0, 1390], "nice": false, "zero": false},
          "axis": {"values": [0, 200, 400, 600, 800, 1000, 1200], "format": "d"}
        },
        "stroke": {
          "field": "series",
          "type": "nominal",
          "scale": {
            "domain": ["product1", "product2", "product3", "product4", "product5", "product6", "y"],
            "range": ["#2a2eec", "#fa7c17", "#328c06", "#c10c90", "#933708", "#65e5f3", "#e6e135"]
          },
          "legend": {
            "orient": "none",
            "legendX": -414,
            "legendY": 1103,
            "columns": 2,
            "title": null,
            "padding": 0,
            "gridAlign": "each",
            "symbolType": "M-2.65,0L2.65,0",
            "symbolSize": 1024,
            "symbolStrokeWidth": 4,
            "labelOffset": 50,
            "rowPadding": 18.5,
            "columnPadding": 67,
            "labelLimit": 2000,
            "labelFontSize": 38.3,
            "labelColor": "#262626"
          }
        }
      }
    }
  ],
  "config": {
    "font": "DejaVu Sans",
    "view": {"fill": "#eeeeee", "stroke": null},
    "axis": {
      "domain": false,
      "ticks": false,
      "grid": true,
      "gridColor": "#ffffff",
      "gridWidth": 2.3,
      "gridOpacity": 1,
      "labelFontSize": 38.3,
      "labelColor": "#262626",
      "labelFont": "DejaVu Sans"
    },
    "axisX": {"labelPadding": 11},
    "axisY": {
      "labelPadding": 14,
      "titleFontSize": 38.3,
      "titleFontWeight": "normal",
      "titleColor": "#262626",
      "titleFont": "DejaVu Sans",
      "titleX": -127,
      "titleY": 499,
      "titleAngle": -90,
      "titleAlign": "center",
      "titleBaseline": "alphabetic"
    }
  }
}
